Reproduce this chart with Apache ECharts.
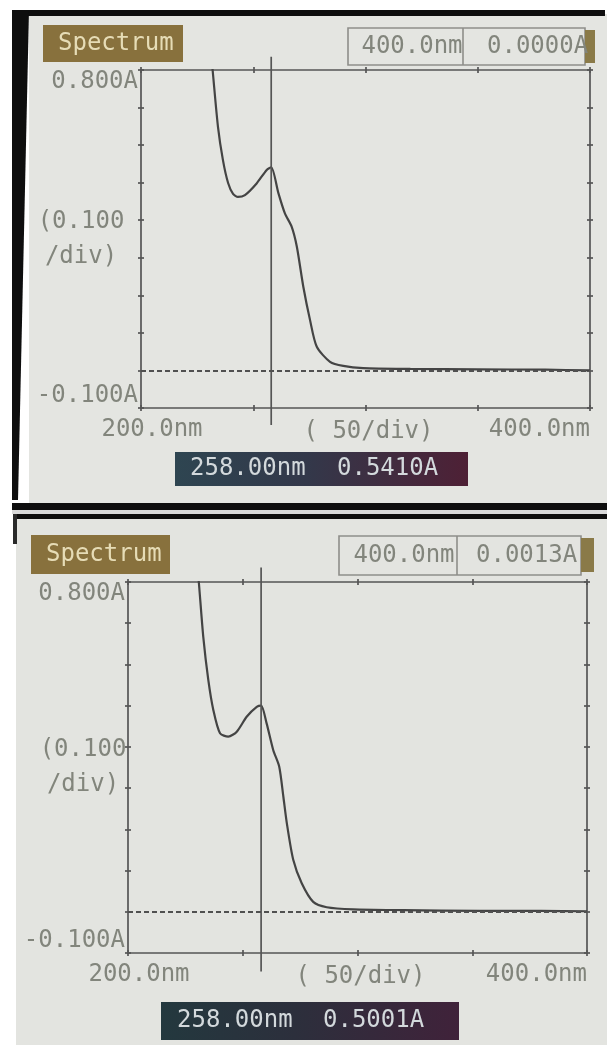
<!DOCTYPE html>
<html>
<head>
<meta charset="utf-8">
<script src="https://cdn.jsdelivr.net/npm/echarts@6/dist/echarts.min.js"></script>
<style>
html,body{margin:0;padding:0;background:#fff;}
#c{width:607px;height:1049px;}
</style>
</head>
<body>
<div id="c"></div>
<script>
// ---- data ----
const xMin = 200, xMax = 400, xStep = 50;
const yMin = -0.1, yMax = 0.8, yStep = 0.1;
const xTickLabels = ['200.0nm', '400.0nm'];
const yTickLabels = ['-0.100A', '0.800A'];
const xUnitName = '( 50/div)';
const yUnitName = '(0.100\n/div)';

const topNm  = [230.3, 231.9, 234.3, 236.5, 238.8, 241.0, 243.2, 246.3, 251.5, 256.0, 258.0, 261.2, 264.1, 267.1, 269.4, 272.3, 275.3, 278.3, 284.2, 290.1, 299.0, 320, 350, 380, 400];
const topAbs = [0.900, 0.800, 0.648, 0.560, 0.499, 0.470, 0.462, 0.467, 0.498, 0.534, 0.541, 0.472, 0.418, 0.383, 0.330, 0.223, 0.134, 0.063, 0.023, 0.012, 0.006, 0.004, 0.003, 0.002, 0.000];

const botNm  = [229.3, 230.9, 232.8, 235.0, 237.2, 240.1, 243.7, 247.4, 251.7, 256.1, 258.0, 260.4, 263.3, 265.9, 267.7, 269.2, 272.0, 275.7, 280.7, 286.6, 298.2, 320, 353, 380, 400];
const botAbs = [0.900, 0.797, 0.667, 0.562, 0.489, 0.433, 0.425, 0.437, 0.473, 0.497, 0.500, 0.457, 0.392, 0.352, 0.279, 0.215, 0.126, 0.069, 0.024, 0.011, 0.006, 0.004, 0.002, 0.002, 0.0013];

const cursorNm = 258;
const cursorSpan = [0.835, -0.145];
const titles = ['Spectrum', 'Spectrum'];
const headerNm = ['400.0nm', '400.0nm'];
const headerAbs = ['0.0000A', '0.0013A'];
const readNm = ['258.00nm', '258.00nm'];
const readAbs = ['0.5410A', '0.5001A'];

// ---- layout ----
const FONT = '"DejaVu Sans Mono", "Liberation Mono", monospace';
const TXT = '#82857c';
const AX = '#555555';
const panels = [
  {grid:{left:141, top:70, width:449, height:338}, yGap:60, xGap:12,
   title:[43,25,140,37], titleX:58, head:[348,28,237,37], div:463, tab:[585,30,10,33],
   hNmX:412, hAbsX:487, hY:47, read:[175,452,293,34], rNmX:190, rAbsX:337, rY:469},
  {grid:{left:128, top:582, width:459, height:371}, yGap:45, xGap:12,
   title:[31,535,139,39], titleX:46, head:[339,536,242,39], div:457, tab:[581,538,13,34],
   hNmX:404, hAbsX:476, hY:556, read:[161,1002,298,38], rNmX:177, rAbsX:323, rY:1021}
];

function near(a, b){ return Math.abs(a - b) < 1e-6; }

const grids = [], xAxes = [], yAxes = [], series = [], graphics = [];

// frame / photo background
graphics.push(
  {type:'rect', z:-10, shape:{x:29, y:14, width:578, height:490}, style:{fill:'#e4e5e1'}},
  {type:'rect', z:-9, shape:{x:12, y:10, width:593, height:6}, style:{fill:'#0e0e0e'}},
  {type:'polygon', z:-9, shape:{points:[[12,10],[29,10],[18,500],[12,500]]}, style:{fill:'#0e0e0e'}},
  {type:'rect', z:-9, shape:{x:12, y:503, width:595, height:7}, style:{fill:'#0e0e0e'}},
  {type:'rect', z:-9, shape:{x:12, y:510, width:595, height:4}, style:{fill:'#d9d9d9'}},
  {type:'rect', z:-9, shape:{x:14, y:514, width:593, height:5}, style:{fill:'#0e0e0e'}},
  {type:'rect', z:-10, shape:{x:16, y:519, width:591, height:526}, style:{fill:'#e3e4e0'}},
  {type:'rect', z:-9, shape:{x:13, y:514, width:4, height:30}, style:{fill:'#2a2a2a'}}
);

panels.forEach((p, i) => {
  grids.push(Object.assign({outerBoundsMode:'none', containLabel:false}, p.grid));
  const xb = {gridIndex:i, type:'value', min:xMin, max:xMax, interval:xStep, splitLine:{show:false}};
  const yb = {gridIndex:i, type:'value', min:yMin, max:yMax, interval:yStep, splitLine:{show:false}};
  const line = {show:true, onZero:false, lineStyle:{color:AX, width:1.7}};
  const noLine = {show:false, onZero:false};
  const noLab = {show:false};
  const tickOut = {show:true, inside:false, length:3, lineStyle:{color:AX, width:1.7}};
  const tickIn = {show:true, inside:true, length:3, lineStyle:{color:AX, width:1.7}};
  // x axes: bottom (labels), bottom inner ticks, top, top inner ticks
  xAxes.push(Object.assign({}, xb, {position:'bottom', axisLine:line, axisTick:tickOut,
    axisLabel:{show:true, margin:10, color:TXT, fontFamily:FONT, fontSize:24, alignMaxLabel:'right',
      padding:[0,0,0,22],
      formatter: v => near(v, xMin) ? xTickLabels[0] : (near(v, xMax) ? xTickLabels[1] : '')},
    name:xUnitName, nameLocation:'middle', nameGap:p.xGap, nameMoveOverlap:false,
    nameTextStyle:{color:TXT, fontFamily:FONT, fontSize:24, verticalAlign:'top', padding:[0,0,0,6]}}));
  xAxes.push(Object.assign({}, xb, {position:'bottom', axisLine:noLine, axisTick:tickIn, axisLabel:noLab}));
  xAxes.push(Object.assign({}, xb, {position:'top', axisLine:line, axisTick:tickOut, axisLabel:noLab}));
  xAxes.push(Object.assign({}, xb, {position:'top', axisLine:noLine, axisTick:tickIn, axisLabel:noLab}));
  // y axes: left (labels), left inner, right, right inner
  yAxes.push(Object.assign({}, yb, {position:'left', axisLine:line, axisTick:tickOut,
    axisLabel:{show:true, margin:3, color:TXT, fontFamily:FONT, fontSize:24,
      verticalAlignMaxLabel:'top', verticalAlignMinLabel:'bottom',
      formatter: v => near(v, yMin) ? yTickLabels[0] : (near(v, yMax) ? yTickLabels[1] : '')},
    name:yUnitName, nameLocation:'middle', nameRotate:0, nameGap:p.yGap, nameMoveOverlap:false,
    nameTextStyle:{color:TXT, fontFamily:FONT, fontSize:24, lineHeight:35, align:'center', verticalAlign:'middle'}}));
  yAxes.push(Object.assign({}, yb, {position:'left', axisLine:noLine, axisTick:tickIn, axisLabel:noLab}));
  yAxes.push(Object.assign({}, yb, {position:'right', axisLine:line, axisTick:tickOut, axisLabel:noLab}));
  yAxes.push(Object.assign({}, yb, {position:'right', axisLine:noLine, axisTick:tickIn, axisLabel:noLab}));

  const nm = i === 0 ? topNm : botNm;
  const ab = i === 0 ? topAbs : botAbs;
  series.push({
    type:'line', xAxisIndex:i*4, yAxisIndex:i*4, data: nm.map((x, k) => [x, ab[k]]),
    showSymbol:false, smooth:0.25, clip:true, silent:true, z:3,
    lineStyle:{color:'#444444', width:2.2},
    markLine:{silent:true, symbol:['none','none'], label:{show:false},
      lineStyle:{color:'#505050', width:2, type:[5,3]}, data:[{yAxis:0}]}
  });
  series.push({
    type:'line', xAxisIndex:i*4, yAxisIndex:i*4, clip:false, silent:true, showSymbol:false,
    data:[[cursorNm, cursorSpan[0]], [cursorNm, cursorSpan[1]]],
    lineStyle:{color:'#555555', width:1.7}
  });

  // instrument UI boxes
  const t = p.title, h = p.head, r = p.read;
  graphics.push(
    {type:'rect', z:1, shape:{x:t[0], y:t[1], width:t[2], height:t[3]}, style:{fill:'#88713d'}},
    {type:'text', z:2, x:p.titleX, y:t[1] + t[3]/2, style:{text:titles[i], fill:'#e6dcb6', font:'24px ' + FONT, verticalAlign:'middle'}},
    {type:'rect', z:1, shape:{x:h[0], y:h[1], width:h[2], height:h[3]}, style:{fill:'none', stroke:'#8e8e8a', lineWidth:1.6}},
    {type:'line', z:1, shape:{x1:p.div, y1:h[1], x2:p.div, y2:h[1] + h[3]}, style:{stroke:'#8e8e8a', lineWidth:1.6}},
    {type:'rect', z:1, shape:{x:p.tab[0], y:p.tab[1], width:p.tab[2], height:p.tab[3]}, style:{fill:'#8a7a48'}},
    {type:'text', z:2, x:p.hNmX, y:p.hY, style:{text:headerNm[i], fill:TXT, font:'24px ' + FONT, align:'center', verticalAlign:'middle'}},
    {type:'text', z:2, x:p.hAbsX, y:p.hY, style:{text:headerAbs[i], fill:TXT, font:'24px ' + FONT, verticalAlign:'middle'}},
    {type:'rect', z:1, shape:{x:r[0], y:r[1], width:r[2], height:r[3]},
      style:{fill:new echarts.graphic.LinearGradient(0,0,1,0,[
        {offset:0, color: i === 0 ? '#2e4551' : '#23383e'},
        {offset:0.45, color: i === 0 ? '#33384a' : '#2c2f3c'},
        {offset:1, color: i === 0 ? '#4e2035' : '#40223a'}])}},
    {type:'text', z:2, x:p.rNmX, y:p.rY, style:{text:readNm[i], fill:'#d3d9dc', font:'24px ' + FONT, verticalAlign:'middle'}},
    {type:'text', z:2, x:p.rAbsX, y:p.rY, style:{text:readAbs[i], fill:'#d3d9dc', font:'24px ' + FONT, verticalAlign:'middle'}}
  );
});

const chart = echarts.init(document.getElementById('c'), null, {renderer:'canvas'});
chart.setOption({
  backgroundColor:'#ffffff',
  animation:false,
  grid:grids, xAxis:xAxes, yAxis:yAxes, series:series,
  graphic:{elements:graphics}
});
</script>
</body>
</html>
